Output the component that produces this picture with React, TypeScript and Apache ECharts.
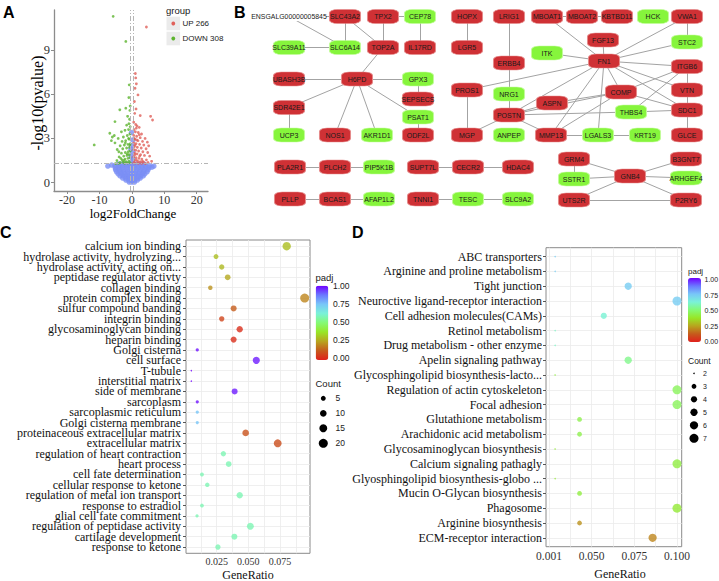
import React, { useEffect, useRef } from "react";
import * as echarts from "echarts";

const SERIF = "'Liberation Serif', 'Times New Roman', serif";
const SANS = "'Liberation Sans', Arial, Helvetica, sans-serif";

// ---------------- Panel A : volcano ----------------
const volcanoUpPoints: number[][] = [
  [4.5, 10.55], [1.1, 7.4], [1.2, 7.1], [1.4, 6.7], [1.0, 6.4], [1.9, 5.95], [0.8, 5.5], [1.3, 5.0],
  [0.9, 4.7], [2.6, 4.55], [5.8, 4.5], [6.4, 4.25], [0.6, 4.1], [1.2, 3.95], [1.6, 3.85], [2.3, 3.75],
  [0.7, 3.6], [1.1, 3.45], [2.0, 3.4], [3.0, 3.3], [0.6, 3.2], [1.5, 3.15], [2.6, 3.05], [4.1, 3.0],
  [0.9, 2.95], [1.9, 2.85], [3.3, 2.8], [4.8, 2.75], [0.6, 2.7], [1.3, 2.65], [2.4, 2.6], [3.7, 2.55],
  [5.2, 2.5], [0.8, 2.45], [1.7, 2.4], [2.9, 2.35], [4.4, 2.3], [0.6, 2.25], [1.2, 2.2], [2.1, 2.15],
  [3.4, 2.1], [4.9, 2.05], [0.9, 2.0], [1.6, 1.95], [2.7, 1.9], [3.9, 1.85], [5.5, 1.8], [0.6, 1.75],
  [1.3, 1.7], [2.2, 1.65], [3.1, 1.6], [4.5, 1.55], [0.8, 1.5], [1.8, 1.45], [2.6, 1.42], [3.6, 1.4],
  [5.0, 1.38], [0.6, 1.35], [1.1, 1.33], [2.0, 1.32], [3.0, 1.31], [4.2, 1.3], [6.1, 1.45], [1.4, 3.7],
  [0.7, 3.0], [1.0, 2.55], [1.5, 2.9], [2.3, 3.25], [0.9, 1.9], [1.4, 1.55], [2.4, 1.8], [3.3, 1.45],
];
const volcanoDownPoints: number[][] = [
  [-5.75, 11.27], [-1.85, 9.57], [-0.8, 6.63], [-0.92, 5.77], [-1.85, 5.05], [-0.6, 4.9], [-3.7, 4.94],
  [-1.3, 4.5], [-5.2, 4.14], [-0.7, 4.3], [-1.6, 3.9], [-6.8, 3.35], [-6.0, 3.1], [-5.4, 3.2], [-6.3, 2.85],
  [-11.6, 2.56], [-0.5, 3.8], [-1.0, 3.6], [-2.1, 3.55], [-3.2, 3.45], [-0.6, 3.3], [-1.4, 3.2], [-2.6, 3.1],
  [-4.2, 3.0], [-0.8, 2.95], [-1.9, 2.85], [-3.0, 2.8], [-5.2, 2.7], [-0.5, 2.65], [-1.2, 2.6], [-2.3, 2.55],
  [-3.6, 2.5], [-0.7, 2.4], [-1.6, 2.35], [-2.8, 2.3], [-4.5, 2.25], [-0.5, 2.15], [-1.1, 2.1], [-2.0, 2.05],
  [-3.2, 2.0], [-0.8, 1.9], [-1.5, 1.85], [-2.5, 1.8], [-3.9, 1.75], [-0.6, 1.7], [-1.2, 1.65], [-2.1, 1.6],
  [-3.0, 1.55], [-4.6, 1.5], [-0.9, 1.45], [-1.7, 1.42], [-2.7, 1.4], [-3.6, 1.37], [-0.5, 1.35], [-1.3, 1.33],
  [-2.2, 1.32], [-4.1, 1.31], [-5.0, 1.3], [-1.0, 3.0], [-2.0, 2.7], [-0.6, 2.55], [-1.4, 1.95], [-2.4, 1.5],
  [-3.4, 1.65], [-0.9, 4.0], [-0.5, 5.2], [-4.0, 2.1],
];
const volcanoNsPoints: number[][] = [
  [-0.8, 0.05], [0, 0.05], [0.8, 0.05],
  [-1.8, 0.18], [-0.9, 0.18], [0, 0.18], [0.9, 0.18], [1.7, 0.18],
  [-2.8, 0.32], [-1.9, 0.32], [-1, 0.32], [0, 0.32], [1, 0.32], [1.9, 0.32], [2.6, 0.32],
  [-3.6, 0.46], [-2.7, 0.46], [-1.8, 0.46], [-0.9, 0.46], [0, 0.46], [0.9, 0.46], [1.8, 0.46], [2.7, 0.46], [3.5, 0.46],
  [-4.2, 0.6], [-3.2, 0.6], [-2.2, 0.6], [-1.1, 0.6], [0, 0.6], [1.1, 0.6], [2.2, 0.6], [3.2, 0.6], [4.0, 0.6],
  [-4.7, 0.74], [-3.6, 0.74], [-2.5, 0.74], [-1.3, 0.74], [0, 0.74], [1.2, 0.74], [2.4, 0.74], [3.6, 0.74], [4.7, 0.74],
  [-5, 0.88], [-3.9, 0.88], [-2.7, 0.88], [-1.4, 0.88], [0, 0.88], [1.3, 0.88], [2.6, 0.88], [3.8, 0.88], [5.0, 0.88],
  [-5.1, 1.02], [-4, 1.02], [-2.8, 1.02], [-1.5, 1.02], [-0.3, 1.02], [0.8, 1.02], [2, 1.02], [3.2, 1.02], [4.3, 1.02], [5.3, 1.02],
  [-5.2, 1.16], [-4, 1.16], [-2.8, 1.16], [-1.6, 1.16], [-0.4, 1.16], [0.7, 1.16], [1.9, 1.16], [3.1, 1.16], [4.3, 1.16], [5.4, 1.16],
  [-4.0, 1.27], [-2.8, 1.27], [-1.7, 1.27], [-0.6, 1.27], [0.4, 1.27], [1.5, 1.27], [2.6, 1.27], [3.7, 1.27],
  [-7.4, 1.13], [6.8, 1.13], [-6.2, 1.2], [6.2, 1.05],
  [0.1, 1.5], [-0.2, 1.8], [0.2, 2.1], [0, 2.5], [0.3, 2.9], [-0.1, 3.4], [0.2, 1.65], [-0.3, 2.3],
];
const volcanoGroups = ["UP 266", "DOWN 308"];
const volcanoXTicks = [-20, -10, 0, 10, 20];
const volcanoYTicks = [0, 3, 6, 9];
const foldChangeCutoffs = [-0.5, 0.5];
const pValueCutoff = 1.3;

// ---------------- Panel B : network ----------------
const upGenes = [
  "SLC43A2", "TPX2", "HOPX", "LRIG1", "MBOAT1", "MBOAT2", "KBTBD11", "VWA1", "TOP2A", "IL17RD", "LGR5",
  "FGF13", "FN1", "ERBB4", "ITGB6", "UBASH3B", "H6PD", "PROS1", "VTN", "COMP", "SEPSECS", "ASPN", "SDR42E1",
  "SDC1", "POSTN", "NOS1", "ODF2L", "MGP", "MMP13", "GLCE", "PLA2R1", "PLCH2", "SUPT7L", "CECR2", "HDAC4",
  "GRM4", "B3GNT7", "GNB4", "UTS2R", "P2RY6", "PLLP", "BCAS1", "TNNI1",
];
const downGenes = [
  "CEP78", "HCK", "SLC39A11", "SLC6A14", "STC2", "ITK", "GPX3", "NRG1", "THBS4", "PSAT1", "UCP3", "AKR1D1",
  "ANPEP", "LGALS3", "KRT19", "PIP5K1B", "SSTR1", "ARHGEF4", "AFAP1L2", "TESC", "SLC9A2",
];
const unlabeledGene = "ENSGALG00000005845";
// node layout positions [name, layoutX, layoutY]
const networkLayout: [string, number, number][] = [
  ["ENSGALG00000005845", 49, 16.5], ["SLC43A2", 105, 16.5], ["TPX2", 143, 16.5], ["CEP78", 180, 16.5],
  ["HOPX", 227, 16.5], ["LRIG1", 269, 16.5], ["MBOAT1", 307, 16.5], ["MBOAT2", 342, 16.5],
  ["KBTBD11", 377, 16.5], ["HCK", 413, 16.5], ["VWA1", 447, 16.5],
  ["SLC39A11", 49, 47.5], ["SLC6A14", 105, 47.5], ["TOP2A", 143, 47.5], ["IL17RD", 180, 47.5], ["LGR5", 227, 47.5],
  ["FGF13", 363, 40], ["STC2", 447, 42], ["ITK", 307, 53], ["FN1", 364, 61], ["ERBB4", 269, 63], ["ITGB6", 447, 66.5],
  ["UBASH3B", 49, 79], ["H6PD", 117, 79], ["GPX3", 178, 79], ["PROS1", 227, 90], ["VTN", 447, 90],
  ["COMP", 381, 92], ["NRG1", 269, 94], ["SEPSECS", 178, 99], ["ASPN", 312, 103], ["SDR42E1", 49, 107.5],
  ["SDC1", 447, 110], ["THBS4", 391, 112], ["POSTN", 269, 115], ["PSAT1", 178, 117],
  ["UCP3", 49, 135], ["NOS1", 95, 135], ["AKR1D1", 137, 135], ["ODF2L", 178, 135], ["MGP", 227, 135],
  ["ANPEP", 269, 135], ["MMP13", 311, 135], ["LGALS3", 358, 135], ["KRT19", 405, 135], ["GLCE", 447, 135],
  ["PLA2R1", 50, 167], ["PLCH2", 95, 167], ["PIP5K1B", 139, 167], ["SUPT7L", 183, 167], ["CECR2", 228, 167],
  ["HDAC4", 278, 167], ["GRM4", 334, 159], ["B3GNT7", 446, 159], ["GNB4", 390, 176], ["SSTR1", 334, 179],
  ["ARHGEF4", 446, 178], ["UTS2R", 334, 200], ["P2RY6", 446, 200],
  ["PLLP", 50, 199], ["BCAS1", 95, 199], ["AFAP1L2", 139, 199], ["TNNI1", 183, 199], ["TESC", 228, 199], ["SLC9A2", 278, 199],
];
const networkEdges: [string, string][] = [
  ["ENSGALG00000005845", "SLC43A2"], ["ENSGALG00000005845", "SLC6A14"], ["SLC43A2", "SLC6A14"], ["SLC43A2", "TOP2A"],
  ["TPX2", "TOP2A"], ["TPX2", "CEP78"], ["CEP78", "IL17RD"], ["SLC39A11", "SLC6A14"], ["HOPX", "LGR5"],
  ["TOP2A", "H6PD"], ["UBASH3B", "H6PD"], ["H6PD", "GPX3"], ["H6PD", "SDR42E1"], ["H6PD", "NOS1"], ["H6PD", "AKR1D1"],
  ["H6PD", "PSAT1"], ["GPX3", "SEPSECS"], ["SDR42E1", "UCP3"], ["PSAT1", "ODF2L"], ["PROS1", "MGP"], ["MGP", "POSTN"],
  ["LRIG1", "ERBB4"], ["ERBB4", "NRG1"], ["NRG1", "POSTN"], ["MBOAT1", "MBOAT2"], ["MBOAT2", "KBTBD11"],
  ["MBOAT1", "FN1"], ["VWA1", "FN1"], ["VWA1", "STC2"], ["FGF13", "FN1"], ["STC2", "FN1"], ["ITK", "FN1"],
  ["PROS1", "FN1"], ["FN1", "ITGB6"], ["FN1", "VTN"], ["FN1", "SDC1"], ["FN1", "COMP"], ["FN1", "POSTN"],
  ["FN1", "MMP13"], ["FN1", "LGALS3"], ["ITGB6", "VTN"], ["ITGB6", "COMP"], ["ITGB6", "THBS4"], ["VTN", "SDC1"],
  ["SDC1", "GLCE"], ["COMP", "ASPN"], ["COMP", "SDC1"], ["COMP", "MMP13"], ["POSTN", "ASPN"], ["POSTN", "COMP"],
  ["POSTN", "THBS4"], ["THBS4", "SDC1"], ["POSTN", "MMP13"], ["MMP13", "LGALS3"], ["LGALS3", "KRT19"],
  ["PLA2R1", "PLCH2"], ["PLCH2", "PIP5K1B"], ["SUPT7L", "CECR2"], ["CECR2", "HDAC4"], ["PLLP", "BCAS1"],
  ["BCAS1", "AFAP1L2"], ["TNNI1", "TESC"], ["TESC", "SLC9A2"], ["GRM4", "SSTR1"], ["GRM4", "GNB4"],
  ["SSTR1", "GNB4"], ["UTS2R", "GNB4"], ["UTS2R", "P2RY6"], ["GNB4", "B3GNT7"], ["GNB4", "ARHGEF4"], ["GNB4", "P2RY6"],
];

// ---------------- Panel C : GO enrichment ----------------
const goTerms = [
  "calcium ion binding", "hydrolase activity, hydrolyzing...", "hydrolase activity, acting on...",
  "peptidase regulator activty", "collagen binding", "protein complex binding", "sulfur compound banding",
  "integrin binding", "glycosaminoglycan binding", "heparin binding", "Golgi cisterna", "cell surface",
  "T-tubule", "interstitial matrix", "side of membrane", "sarcoplasm", "sarcoplasmic reticulum",
  "Golgi cisterna membrane", "proteinaceous extracellular matrix", "extracellular matrix",
  "regulation of heart contraction", "heart process", "cell fate determination", "cellular response to ketone",
  "regulation of metal ion transport", "response to estradiol", "glial cell fate commitment",
  "regulation of peptidase activity", "cartilage development", "response to ketone",
];
const goGeneRatio = [
  0.0803, 0.0245, 0.029, 0.0337, 0.02, 0.0945, 0.0384, 0.029, 0.0432, 0.0384, 0.0097, 0.0563, 0.005, 0.005, 0.0392,
  0.0097, 0.0097, 0.0097, 0.0479, 0.0732, 0.0303, 0.0345, 0.0134, 0.0176, 0.0432, 0.0134, 0.0095, 0.0516, 0.039, 0.026,
];
const goPadj = [
  0.3, 0.3, 0.29, 0.26, 0.22, 0.2, 0.13, 0.08, 0.03, 0.03, 0.98, 0.97, 1.0, 1.0, 0.97, 0.98, 0.75, 0.75, 0.11, 0.1,
  0.58, 0.58, 0.58, 0.58, 0.58, 0.58, 0.58, 0.58, 0.58, 0.58,
];
const goCount = [17, 5, 6, 7, 4, 20, 8, 6, 9, 8, 2, 12, 1, 1, 8, 2, 2, 2, 10, 15, 6, 7, 3, 4, 9, 3, 2, 11, 8, 6];
const goXLabelTicks = [0.025, 0.05, 0.075];
const goXGridTicks = [0.0125, 0.025, 0.0375, 0.05, 0.0625, 0.075, 0.0875];
const goSizeBreaks = [5, 10, 15, 20];

// ---------------- Panel D : KEGG enrichment ----------------
const keggTerms = [
  "ABC transporters", "Arginine and proline metabolism", "Tight junction", "Neuroctive ligand-receptor interaction",
  "Cell adhesion molecules(CAMs)", "Retinol metabolism", "Drug metabolism - other enzyme", "Apelin signaling pathway",
  "Glycosphingolipid biosynthesis-lacto...", "Regulation of actin cytoskeleton", "Focal adhesion",
  "Glutathione metabolism", "Arachidonic acid metabolism", "Glycosaminoglycan biosynthesis",
  "Calcium signaling pathagly", "Glyosphingolipid biosynthesis-globo ...", "Mucin O-Glycan biosynthesis",
  "Phagosome", "Arginine biosynthesis", "ECM-receptor interaction",
];
const keggGeneRatio = [
  0.0286, 0.0286, 0.0714, 0.1, 0.0571, 0.0286, 0.0286, 0.0714, 0.0286, 0.1, 0.1, 0.0429, 0.0429, 0.0286, 0.1,
  0.0286, 0.0429, 0.1, 0.0429, 0.0857,
];
const keggPadj = [
  0.73, 0.73, 0.73, 0.73, 0.62, 0.6, 0.6, 0.53, 0.42, 0.46, 0.46, 0.44, 0.44, 0.4, 0.42, 0.4, 0.42, 0.4, 0.22, 0.2,
];
const keggCount = [2, 2, 5, 7, 4, 2, 2, 5, 2, 7, 7, 3, 3, 2, 7, 2, 3, 7, 3, 6];
const keggXLabelTicks = [0.025, 0.05, 0.075, 0.1];
const keggXTickLabels = ["0.001", "0.050", "0.075", "0.100"];
const keggXGridTicks = [0.025, 0.0375, 0.05, 0.0625, 0.075, 0.0875, 0.1];
const keggSizeBreaks = [2, 3, 4, 5, 6, 7];

const padjColors = [
  "#e0201c", "#c65a1c", "#b8a41e", "#98e626", "#84fa74", "#7af2d8", "#78c6f8", "#6a78ff", "#7000ff",
];
const padjLegendTicks = [1, 0.75, 0.5, 0.25, 0];

const RED = "#cf3135";
const GREEN = "#86f53c";

function dotSize(count: number, min: number, max: number) {
  return 1.5 * (1 + 5 * Math.sqrt((count - min) / (max - min)));
}

function buildOption(): any {
  const goMin = Math.min(...goCount);
  const goMax = Math.max(...goCount);
  const kgMin = Math.min(...keggCount);
  const kgMax = Math.max(...keggCount);
  const goIdx = goTerms.map((_, i) => i);
  const kgIdx = keggTerms.map((_, i) => i);
  const goYMin = -0.6;
  const goYMax = goTerms.length - 0.4;
  const kgYMin = -0.6;
  const kgYMax = keggTerms.length - 0.4;

  const graphics: any[] = [];
  const txt = (text: string, x: number, y: number, extra: any = {}, rotation = 0) => {
    graphics.push({
      type: "text",
      x,
      y,
      rotation,
      silent: true,
      style: {
        text,
        fill: "#1a1a1a",
        fontFamily: SANS,
        fontSize: 10,
        align: "left",
        verticalAlign: "middle",
        ...extra,
      },
    });
  };
  // panel letters
  [["A", 3, 4], ["B", 234, 4], ["C", 0, 224], ["D", 352, 224]].forEach(([t, x, y]) =>
    txt(t as string, x as number, y as number, { fontSize: 16, fontWeight: "bold", verticalAlign: "top", fill: "#000" })
  );
  // Panel A titles
  txt("-log10(pvalue)", 37, 103, { fontFamily: SERIF, fontSize: 16, align: "center", fill: "#000" }, Math.PI / 2);
  txt("log2FoldChange", 133, 213.5, { fontFamily: SERIF, fontSize: 13, align: "center", fill: "#000" });
  // Panel A legend
  txt("group", 166, 10, { fontSize: 9.5 });
  const legColors = ["#e0605a", "#5db42e"];
  volcanoGroups.forEach((g, i) => {
    const cy = 23.5 + i * 15;
    graphics.push({ type: "rect", silent: true, shape: { x: 166.5, y: cy - 6.8, width: 13.6, height: 13.6 }, style: { fill: "#ebebeb" } });
    graphics.push({ type: "circle", silent: true, shape: { cx: 173.3, cy, r: 1.9 }, style: { fill: legColors[i] } });
    txt(g, 182.5, cy, { fontSize: 8 });
  });
  // Panel C / D axis titles
  txt("GeneRatio", 248, 574.5, { fontFamily: SERIF, fontSize: 12, align: "center", fill: "#111" });
  txt("GeneRatio", 620, 574, { fontFamily: SERIF, fontSize: 12, align: "center", fill: "#111" });
  // Panel C legends
  txt("padj", 315.5, 277, { fontSize: 9.5 });
  padjLegendTicks.forEach((v) => txt(v.toFixed(2), 333, 286 + (1 - v) * 72, { fontSize: 8.5 }));
  txt("Count", 315.5, 383.5, { fontSize: 9.5 });
  goSizeBreaks.forEach((c, i) => {
    const cy = 398.3 + i * 15;
    graphics.push({ type: "circle", silent: true, shape: { cx: 323.3, cy, r: dotSize(c, goMin, goMax) / 2 }, style: { fill: "#000" } });
    txt(String(c), 335.5, cy, { fontSize: 8.5 });
  });
  // Panel D legends
  txt("padj", 688, 271.5, { fontSize: 8 });
  padjLegendTicks.forEach((v) => txt(v.toFixed(2), 704.5, 279.5 + (1 - v) * 62, { fontSize: 7 }));
  txt("Count", 688, 360.5, { fontSize: 8.5 });
  keggSizeBreaks.forEach((c, i) => {
    const cy = 373.3 + i * 13;
    graphics.push({ type: "circle", silent: true, shape: { cx: 694, cy, r: dotSize(c, kgMin, kgMax) / 2 }, style: { fill: "#000" } });
    txt(String(c), 703, cy, { fontSize: 7 });
  });

  const downSet = new Set(downGenes);
  const upSet = new Set(upGenes);
  const graphData = networkLayout.map(([name, x, y]) => {
    if (name === unlabeledGene) {
      return {
        name, value: [x, y], symbol: "rect", symbolSize: [74, 9],
        itemStyle: { color: "#fff", borderWidth: 0 },
        label: { fontSize: 6.9 },
      };
    }
    const isDown = downSet.has(name);
    const isUp = upSet.has(name);
    return {
      name,
      value: [x, y],
      itemStyle: {
        color: isDown ? GREEN : isUp ? RED : "#ccc",
        borderColor: isDown ? "#c2fb9a" : "#e58a8a",
        borderWidth: 0.7,
      },
    };
  });

  // the extent values carry empty labels so that ECharts' min/max label check never hides a term
  const termLabel = { showMinLabel: false, showMaxLabel: false, hideOverlap: false };
  const termName = (terms: string[]) => (v: number) => {
    const i = Math.round(v);
    return Math.abs(v - i) < 1e-6 && terms[i] !== undefined ? terms[i] : "";
  };

  return {
    animation: false,
    backgroundColor: "#fff",
    grid: [
      { left: 54, top: 10, width: 154, height: 181 },
      { left: 240, top: 0, width: 479, height: 215 },
      { left: 186, top: 240, width: 124, height: 313.3, show: true, borderColor: "#8a8a8a", borderWidth: 1, backgroundColor: "#fff" },
      { left: 546, top: 247.7, width: 135.7, height: 299, show: true, borderColor: "#8a8a8a", borderWidth: 1, backgroundColor: "#fff" },
    ],
    xAxis: [
      {
        gridIndex: 0, type: "value", min: -24, max: 23.5,
        axisLine: { show: true, onZero: false, lineStyle: { color: "#8c8c8c", width: 1.3 } },
        axisTick: { show: true, length: 3, customValues: volcanoXTicks, lineStyle: { color: "#8c8c8c" } },
        axisLabel: { customValues: volcanoXTicks, fontFamily: SERIF, fontSize: 12, color: "#333", margin: 3 },
        splitLine: { show: false },
      },
      { gridIndex: 1, type: "value", min: 0, max: 479, show: false },
      {
        gridIndex: 2, type: "value", min: 0.0008, max: 0.0987,
        axisLine: { show: false },
        axisTick: { show: false, customValues: goXGridTicks },
        axisLabel: {
          customValues: goXLabelTicks, fontFamily: SERIF, fontSize: 10, color: "#333", margin: 3,
          formatter: (v: number) => v.toFixed(3),
        },
        splitLine: { show: true, lineStyle: { color: "#ebebeb", width: 0.8 } },
      },
      {
        gridIndex: 3, type: "value", min: 0.02324, max: 0.10275,
        axisLine: { show: false },
        axisTick: { show: false, customValues: keggXGridTicks },
        axisLabel: {
          customValues: keggXLabelTicks, fontFamily: SERIF, fontSize: 11.5, color: "#333", margin: 3,
          showMinLabel: true, showMaxLabel: true,
          formatter: (v: number) => {
            let best = 0;
            keggXLabelTicks.forEach((t, i) => {
              if (Math.abs(t - v) < Math.abs(keggXLabelTicks[best] - v)) best = i;
            });
            return keggXTickLabels[best];
          },
        },
        splitLine: { show: true, lineStyle: { color: "#ebebeb", width: 0.8 } },
      },
    ],
    yAxis: [
      {
        gridIndex: 0, type: "value", min: -0.56, max: 11.7,
        axisLine: { show: true, onZero: false, lineStyle: { color: "#8c8c8c", width: 1.3 } },
        axisTick: { show: true, length: 3, customValues: volcanoYTicks, lineStyle: { color: "#8c8c8c" } },
        axisLabel: { customValues: volcanoYTicks, fontFamily: SERIF, fontSize: 12.5, color: "#333", margin: 4 },
        splitLine: { show: false },
      },
      { gridIndex: 1, type: "value", min: 0, max: 215, inverse: true, show: false },
      {
        gridIndex: 2, type: "value", min: goYMin, max: goYMax, inverse: true,
        axisLine: { show: false },
        axisTick: { show: true, length: 3, customValues: goIdx, lineStyle: { color: "#555" } },
        axisLabel: {
          customValues: [goYMin, ...goIdx, goYMax], fontFamily: SERIF, fontSize: 12, color: "#111", margin: 5,
          ...termLabel,
          formatter: termName(goTerms),
        },
        splitLine: { show: true, lineStyle: { color: "#ebebeb", width: 0.8 } },
      },
      {
        gridIndex: 3, type: "value", min: kgYMin, max: kgYMax, inverse: true,
        axisLine: { show: false },
        axisTick: { show: true, length: 3, customValues: kgIdx, lineStyle: { color: "#555" } },
        axisLabel: {
          customValues: [kgYMin, ...kgIdx, kgYMax], fontFamily: SERIF, fontSize: 12, color: "#111", margin: 4,
          ...termLabel,
          formatter: termName(keggTerms),
        },
        splitLine: { show: true, lineStyle: { color: "#ebebeb", width: 0.8 } },
      },
    ],
    visualMap: [
      {
        type: "continuous", seriesIndex: 4, dimension: 2, min: 0, max: 1, orient: "vertical",
        left: 315.7, top: 285.7, itemWidth: 12.6, itemHeight: 74.3, padding: 0, calculable: false,
        text: null, showLabel: false, inRange: { color: padjColors },
      },
      {
        type: "continuous", seriesIndex: 5, dimension: 2, min: 0, max: 1, orient: "vertical",
        left: 688, top: 278, itemWidth: 13, itemHeight: 64, padding: 0, calculable: false,
        text: null, showLabel: false, inRange: { color: padjColors },
      },
    ],
    series: [
      {
        type: "scatter", name: "NOT", xAxisIndex: 0, yAxisIndex: 0, silent: true,
        data: volcanoNsPoints, symbolSize: 5.5, itemStyle: { color: "#7b8ff5" },
        markLine: {
          silent: true, symbol: "none", label: { show: false },
          lineStyle: { color: "#b5b5b5", width: 1, type: [5, 2, 1, 2] },
          data: [...foldChangeCutoffs.map((x) => ({ xAxis: x })), { yAxis: pValueCutoff }],
        },
      },
      {
        type: "scatter", name: volcanoGroups[0], xAxisIndex: 0, yAxisIndex: 0, silent: true,
        data: volcanoUpPoints, symbolSize: 2.8, itemStyle: { color: "#e0605a" },
      },
      {
        type: "scatter", name: volcanoGroups[1], xAxisIndex: 0, yAxisIndex: 0, silent: true,
        data: volcanoDownPoints, symbolSize: 2.8, itemStyle: { color: "#5db42e" },
      },
      {
        type: "graph", coordinateSystem: "cartesian2d", xAxisIndex: 1, yAxisIndex: 1, silent: true,
        symbol: "roundRect", symbolSize: [31, 14],
        data: graphData,
        links: networkEdges.map(([source, target]) => ({ source, target })),
        label: { show: true, position: "inside", fontFamily: SANS, fontSize: 7, color: "#1a1a1a" },
        lineStyle: { color: "#a3a3a3", width: 1, opacity: 1, curveness: 0 },
        emphasis: { disabled: true },
      },
      {
        type: "scatter", xAxisIndex: 2, yAxisIndex: 2, silent: true,
        data: goTerms.map((_, i) => [goGeneRatio[i], i, goPadj[i], goCount[i]]),
        symbolSize: (v: number[]) => dotSize(v[3], goMin, goMax),
        encode: { x: 0, y: 1 },
      },
      {
        type: "scatter", xAxisIndex: 3, yAxisIndex: 3, silent: true,
        data: keggTerms.map((_, i) => [keggGeneRatio[i], i, keggPadj[i], keggCount[i]]),
        symbolSize: (v: number[]) => dotSize(v[3], kgMin, kgMax),
        encode: { x: 0, y: 1 },
      },
    ],
    graphic: graphics,
  };
}

export default function App() {
  const ref = useRef<HTMLDivElement>(null);
  useEffect(() => {
    if (!ref.current) return;
    const chart = echarts.init(ref.current, null, { renderer: "svg" });
    chart.setOption(buildOption());
    return () => chart.dispose();
  }, []);
  return (
    <div
      ref={ref}
      style={{ position: "fixed", left: 0, top: 0, width: 719, height: 581, background: "#fff" }}
    />
  );
}
